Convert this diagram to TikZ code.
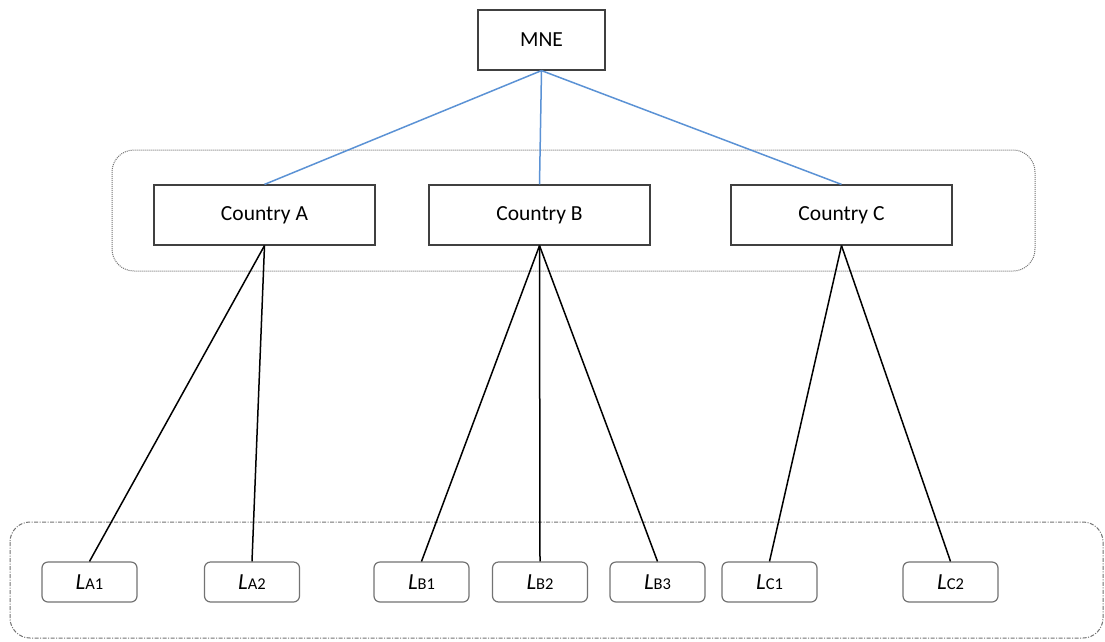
\documentclass[tikz,border=0pt]{standalone}
\usepackage{fontspec}
\setmainfont{Carlito}
\begin{document}
\begin{tikzpicture}[x=1pt,y=-1pt,
  box/.style={draw=black!75, line width=1.2pt, fill=white, inner sep=0pt,
    minimum width=221pt, minimum height=60pt, font=\fontsize{21.5}{24}\selectfont},
  leaf/.style={draw=black!55, line width=1.2pt, fill=white, rounded corners=6pt, inner sep=0pt,
    minimum width=95pt, minimum height=40pt},
  group/.style={draw=black!55, line width=1pt},
  tie/.style={draw=black, line width=1.5pt},
  top/.style={line width=1.5pt, draw={rgb,255:red,91;green,146;blue,213}}
]
\useasboundingbox (0,0) rectangle (1105,641);
\fill[white] (0,0) rectangle (1105,641);

% grouping frames
\draw[group, dash pattern=on 1pt off 1pt, rounded corners=22pt] (112,150) rectangle (1035,271);
\draw[group, dash pattern=on 4pt off 1.5pt on 1pt off 1.5pt, rounded corners=20pt] (10,522) rectangle (1103,638);

% top level and countries
\node[box, minimum width=127pt] (mne) at (541.5,40) {MNE};
\node[box] (ca) at (264.5,215) {Country A};
\node[box] (cb) at (539.5,215) {Country B};
\node[box] (cc) at (841.5,215) {Country C};

% local units
\newcommand{\unitlabel}[1]{{\fontsize{23}{24}\selectfont\itshape L}{\fontsize{16.5}{18}\selectfont #1}}
\node[leaf] (la1) at (89.5,582) {\unitlabel{A1}};
\node[leaf] (la2) at (252,582) {\unitlabel{A2}};
\node[leaf] (lb1) at (421.5,582) {\unitlabel{B1}};
\node[leaf] (lb2) at (540,582) {\unitlabel{B2}};
\node[leaf] (lb3) at (657.5,582) {\unitlabel{B3}};
\node[leaf] (lc1) at (769.5,582) {\unitlabel{C1}};
\node[leaf] (lc2) at (950.5,582) {\unitlabel{C2}};

% connectors
\draw[top] (mne.south) -- (ca.north);
\draw[top] (mne.south) -- (cb.north);
\draw[top] (mne.south) -- (cc.north);

\draw[tie] (ca.south) -- (la1.north);
\draw[tie] (ca.south) -- (la2.north);
\draw[tie] (cb.south) -- (lb1.north);
\draw[tie] (cb.south) -- (lb2.north);
\draw[tie] (cb.south) -- (lb3.north);
\draw[tie] (cc.south) -- (lc1.north);
\draw[tie] (cc.south) -- (lc2.north);
\end{tikzpicture}
\end{document}
